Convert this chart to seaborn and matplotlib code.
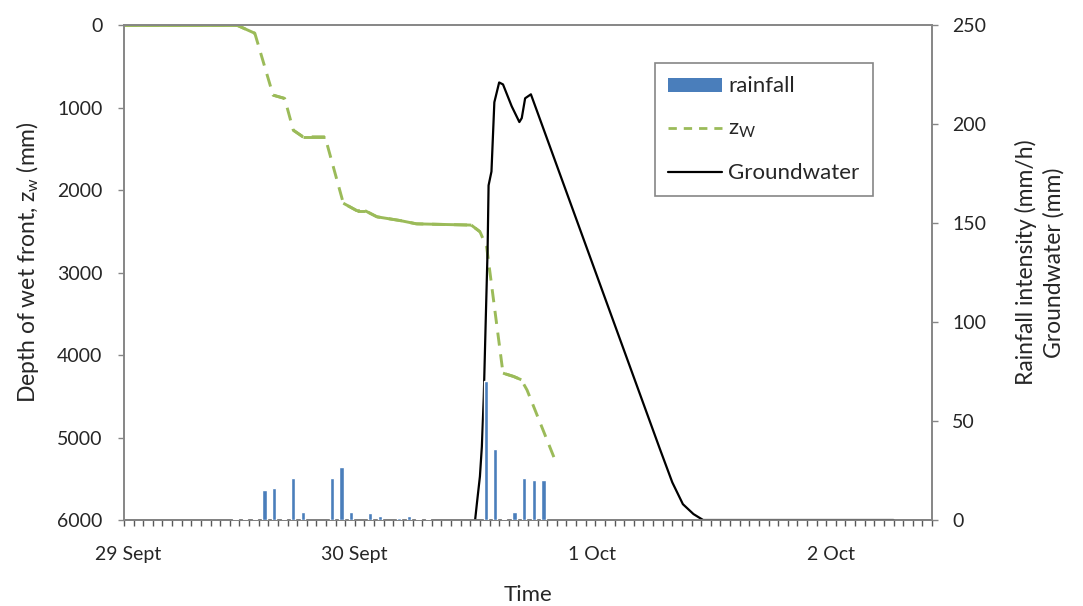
import numpy as np
import pandas as pd
import matplotlib.pyplot as plt
import seaborn as sns
from matplotlib.patches import Patch
from matplotlib.lines import Line2D
from matplotlib.ticker import MultipleLocator, FixedLocator

# ----------------------------------------------------------------------------
# data  (time axis in hours, 0 = start of 29 Sept)
# ----------------------------------------------------------------------------
rain_hours = [11.6, 12.6, 13.6, 14.6, 15.6, 16.6, 17.6, 18.6, 21.6, 22.6, 23.6,
              25.6, 26.6, 28.6, 29.6, 30.6, 31.6, 37.6, 38.6, 39.5, 40.6, 41.6,
              42.6, 43.6]
rain_mm_h = [0.5, 0.5, 0.5, 15, 16, 0.5, 21, 4, 21, 27, 4,
             3.5, 2, 1, 2, 0.5, 0.5, 70, 36, 0.5, 4, 21,
             20, 20]

gw_hours = [36.5, 36.7, 37.0, 37.2, 37.4, 37.6, 37.8, 37.9, 38.2, 38.5, 39.0, 39.4,
            40.3, 41.1, 41.35, 41.7, 42.3, 42.9, 55.7, 57.0, 58.1, 59.2, 60.2, 80.0]
gw_mm = [0, 9, 22, 37, 62, 100, 137, 169, 176, 211, 221, 220,
         209, 201, 203, 213, 215, 207, 36, 19, 8, 3, 0, 0]

zw_hours = [0, 11.7, 13.6, 15.5, 16.7, 17.6, 18.6, 20.9, 22.8, 24.2, 25.05,
            26.3, 28.7, 30.4, 36.1, 37.0, 37.7, 39.4, 40.5, 41.3, 41.9, 44.8]
zw_mm = [0, 0, 100, 850, 890, 1275, 1355, 1355, 2160, 2250, 2250,
         2325, 2370, 2410, 2425, 2505, 2690, 4220, 4260, 4300, 4425, 5270]

date_pos = [0.4, 23.9, 48.6, 73.5]
date_labels = ['29 Sept', '30 Sept', '1 Oct', '2 Oct']

# ----------------------------------------------------------------------------
# style
# ----------------------------------------------------------------------------
sns.set_style('ticks')
plt.rcParams['font.family'] = ['Lato', 'DejaVu Sans']
plt.rcParams['mathtext.fontset'] = 'custom'
plt.rcParams['mathtext.rm'] = 'Lato'
plt.rcParams['mathtext.it'] = 'Lato:italic'

BLUE = '#4a7ebb'
GREEN = '#9bbb59'
AXIS_GREY = '#868686'

fig = plt.figure(figsize=(10.83, 6.06), dpi=100)
ax = fig.add_axes([0.1145, 0.1419, 0.7461, 0.8168])
ax2 = ax.twinx()

# wet front depth (left axis) - dashed, flat stretches solid
sns.lineplot(x=zw_hours, y=zw_mm, ax=ax, color=GREEN, linewidth=2.1,
             linestyle=(0, (4.5, 3)), errorbar=None, legend=False)
for i in range(len(zw_hours) - 1):
    slope = (zw_mm[i + 1] - zw_mm[i]) / (zw_hours[i + 1] - zw_hours[i])
    if slope < 150:
        ax.plot(zw_hours[i:i + 2], zw_mm[i:i + 2], color=GREEN, linewidth=2.1,
                solid_capstyle='butt')

# rainfall + groundwater (right axis)
sns.lineplot(x=gw_hours, y=gw_mm, ax=ax2, color='black', linewidth=1.6,
             errorbar=None, legend=False, zorder=2)
ax2.bar(rain_hours, rain_mm_h, width=0.45, color=BLUE, zorder=3)

# axes
ax.set_xlim(0, 84)
ax.set_ylim(6000, 0)
ax.set_yticks(np.arange(0, 6001, 1000))
ax2.set_ylim(0, 250)
ax2.set_yticks(np.arange(0, 251, 50))

ax.xaxis.set_major_locator(FixedLocator(date_pos))
ax.set_xticklabels(date_labels)
ax.xaxis.set_minor_locator(MultipleLocator(1))
ax.tick_params(axis='x', which='major', length=0, pad=19, labelsize=14)
ax.tick_params(axis='x', which='minor', length=4, width=1, color='#595959', direction='out')
ax.tick_params(axis='y', length=4.5, width=1, color=AXIS_GREY, labelsize=14, pad=11)
ax2.tick_params(axis='y', length=4.5, width=1, color=AXIS_GREY, labelsize=14, pad=10)

for a in (ax, ax2):
    for s in a.spines.values():
        s.set_color(AXIS_GREY)
        s.set_linewidth(1.2)
ax.spines['bottom'].set_color('#595959')

ax.set_xlabel('Time', fontsize=16)
ax.xaxis.set_label_coords(0.5, -0.131)
ax.set_ylabel('Depth of wet front, z$_\\mathrm{w}$ (mm)', fontsize=16.5)
ax.yaxis.set_label_coords(-0.103, 0.52)
ax2.set_ylabel('Rainfall intensity (mm/h)\nGroundwater (mm)', fontsize=16.5,
               multialignment='center', linespacing=1.35)
ax2.yaxis.set_label_coords(1.103, 0.52)

handles = [Patch(facecolor=BLUE, edgecolor='none'),
           Line2D([], [], color=GREEN, linewidth=2.0, linestyle=(0, (3, 2.5))),
           Line2D([], [], color='black', linewidth=1.6)]
labels = ['rainfall', 'z$_\\mathrm{W}$', 'Groundwater']
leg = ax2.legend(handles, labels, loc='upper left', bbox_to_anchor=(0.657, 0.923),
                 borderaxespad=0, fontsize=16, frameon=True, fancybox=False,
                 edgecolor=AXIS_GREY, framealpha=1, handlelength=2.4,
                 handleheight=0.6, labelspacing=1.02, handletextpad=0.3,
                 borderpad=0.6)
leg.get_frame().set_linewidth(1.2)

plt.savefig('out.png', dpi=100)
plt.close()
